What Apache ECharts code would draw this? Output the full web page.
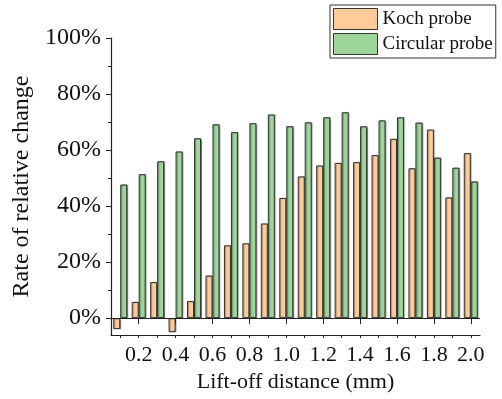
<!DOCTYPE html>
<html>
<head>
<meta charset="utf-8">
<script src="https://cdn.jsdelivr.net/npm/echarts@6/dist/echarts.min.js"></script>
<style>html,body{margin:0;padding:0;background:#fff;}#c{width:502px;height:399px;}</style>
</head>
<body>
<div id="c"></div>
<script>
var categories = ['0.1','0.2','0.3','0.4','0.5','0.6','0.7','0.8','0.9','1.0','1.1','1.2','1.3','1.4','1.5','1.6','1.7','1.8','1.9','2.0'];
var kochProbe = [-3.9, 5.8, 12.9, -5.0, 6.1, 15.2, 26.0, 26.7, 33.8, 42.9, 50.6, 54.5, 55.4, 55.7, 58.2, 64.0, 53.5, 67.3, 43.1, 58.9];
var circularProbe = [47.7, 51.4, 56.0, 59.5, 64.2, 69.2, 66.4, 69.6, 72.7, 68.5, 69.9, 71.7, 73.5, 68.5, 70.6, 71.7, 69.8, 57.3, 53.7, 48.8];
var yMajorTicks = [0, 20, 40, 60, 80, 100];
var yMinorTicks = [10, 30, 50, 70, 90];

var FONT = '"Liberation Serif", "Times New Roman", serif';
var chart = echarts.init(document.getElementById('c'), null, {renderer: 'canvas'});
var labelEvery = function (idx) { return idx % 2 === 1; };
chart.setOption({
  backgroundColor: '#fff',
  animation: false,
  grid: {left: 111, right: 22, top: 38, bottom: 64, containLabel: false},
  legend: {
    orient: 'vertical', left: 330, top: 5,
    itemWidth: 44, itemHeight: 21, itemGap: 3,
    padding: [3, 3, 3, 3],
    borderColor: '#333', borderWidth: 1,
    textStyle: {fontFamily: FONT, fontSize: 19, color: '#111', padding: [0, 0, 0, 0]},
    data: [
      {name: 'Koch probe', icon: 'rect', itemStyle: {color: '#FFCC99', borderColor: '#333', borderWidth: 1}},
      {name: 'Circular probe', icon: 'rect', itemStyle: {color: '#9DD59B', borderColor: '#333', borderWidth: 1}}
    ]
  },
  xAxis: [{
    type: 'category', data: categories, position: 'bottom',
    name: 'Lift-off distance (mm)', nameLocation: 'middle', nameGap: 35,
    nameTextStyle: {fontFamily: FONT, fontSize: 22, color: '#111'},
    axisLine: {show: true, onZero: false, lineStyle: {color: '#222', width: 1.2}},
    axisTick: {show: true, interval: 0, alignWithLabel: true, length: 3, lineStyle: {color: '#222'}},
    axisLabel: {interval: labelEvery, fontFamily: FONT, fontSize: 22, color: '#111', margin: 9},
    splitLine: {show: false}
  }, {
    type: 'category', data: categories, position: 'bottom',
    axisLine: {show: false},
    axisTick: {show: true, interval: labelEvery, alignWithLabel: true, length: 6, lineStyle: {color: '#222'}},
    axisLabel: {show: false},
    splitLine: {show: false}
  }],
  yAxis: [{
    type: 'value', min: -6, max: 100, position: 'left',
    name: 'Rate of relative change', nameLocation: 'middle', nameGap: 73, nameRotate: 90,
    nameTextStyle: {fontFamily: FONT, fontSize: 24, color: '#111'},
    axisLine: {show: true, onZero: false, lineStyle: {color: '#222', width: 1.2}},
    axisTick: {show: true, length: 5, customValues: yMajorTicks, lineStyle: {color: '#222'}},
    axisLabel: {customValues: yMajorTicks, formatter: '{value}%', fontFamily: FONT, fontSize: 24, color: '#111', margin: 10},
    splitLine: {show: false}
  }, {
    type: 'value', min: -6, max: 100, position: 'left', offset: 0,
    axisLine: {show: false},
    axisTick: {show: true, length: 3, customValues: yMinorTicks, lineStyle: {color: '#222'}},
    axisLabel: {show: false},
    splitLine: {show: false}
  }],
  series: [{
    name: 'Koch probe', type: 'bar', data: kochProbe, barWidth: 7, barGap: '0%',
    itemStyle: {color: '#FFCC99', borderColor: '#333', borderWidth: 1,
      shadowColor: 'rgba(0,0,0,0.35)', shadowOffsetX: 1, shadowOffsetY: 0, shadowBlur: 1}
  }, {
    name: 'Circular probe', type: 'bar', data: circularProbe, barWidth: 7, barGap: '0%',
    itemStyle: {color: '#9DD59B', borderColor: '#333', borderWidth: 1,
      shadowColor: 'rgba(0,0,0,0.35)', shadowOffsetX: 1, shadowOffsetY: 0, shadowBlur: 1},
    markLine: {
      silent: true, symbol: 'none', label: {show: false},
      lineStyle: {color: '#222', type: 'solid', width: 1.2},
      data: [{yAxis: 0}]
    }
  }]
});
</script>
</body>
</html>
